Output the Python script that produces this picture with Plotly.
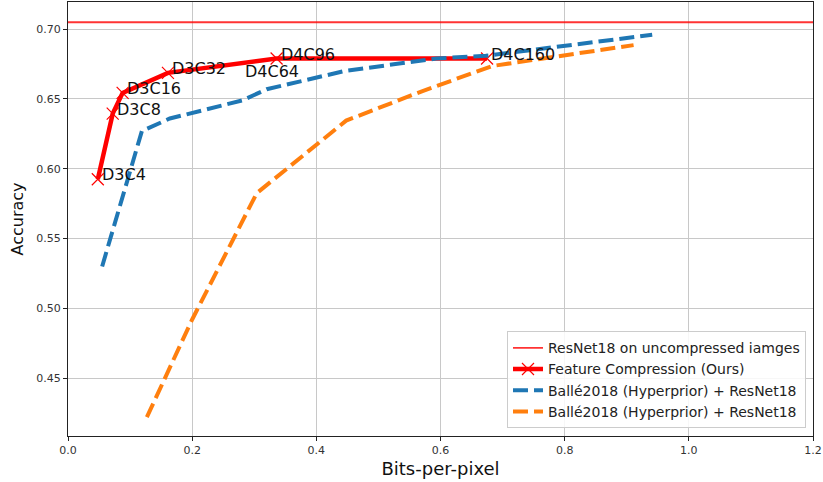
import plotly.graph_objects as go

# Reference accuracy of ResNet18 on uncompressed images
baseline_acc = 0.705

# Feature compression operating points (ours)
feat_labels = ["D3C4", "D3C8", "D3C16", "D3C32", "D4C96", "D4C160"]
feat_bpp = [0.048, 0.072, 0.088, 0.161, 0.336, 0.675]
feat_acc = [0.5925, 0.6395, 0.6544, 0.6687, 0.679, 0.679]

# Extra configuration label placed off the curve
extra_label = "D4C64"
extra_bpp = 0.279
extra_acc = 0.6665

# Ballé2018 (Hyperprior) + ResNet18, first run
balle_a_bpp = [0.055, 0.119, 0.164, 0.281, 0.320, 0.445, 0.593, 0.673, 0.941]
balle_a_acc = [0.530, 0.627, 0.636, 0.649, 0.657, 0.670, 0.679, 0.681, 0.696]

# Ballé2018 (Hyperprior) + ResNet18, second run
balle_b_bpp = [0.127, 0.200, 0.304, 0.448, 0.570, 0.683, 0.911]
balle_b_acc = [0.422, 0.492, 0.5825, 0.6345, 0.6555, 0.6736, 0.6886]

x_range = [0.0, 1.2]
y_range = [0.4085, 0.7195]

FONT = "DejaVu Sans"

fig = go.Figure()

fig.add_trace(go.Scatter(
    x=x_range, y=[baseline_acc, baseline_acc], mode="lines",
    line=dict(color="rgba(255,0,0,0.8)", width=1.8),
    name="ResNet18 on uncompressed iamges",
))

fig.add_trace(go.Scatter(
    x=feat_bpp, y=feat_acc, mode="lines+markers",
    line=dict(color="#ff0000", width=4.5),
    marker=dict(symbol="x-thin", size=12, line=dict(color="#ff0000", width=1.2)),
    name="Feature Compression (Ours)",
))

fig.add_trace(go.Scatter(
    x=balle_a_bpp, y=balle_a_acc, mode="lines",
    line=dict(color="#1f77b4", width=4, dash="15px,6px"),
    name="Ballé2018 (Hyperprior) + ResNet18",
))

fig.add_trace(go.Scatter(
    x=balle_b_bpp, y=balle_b_acc, mode="lines",
    line=dict(color="#ff7f0e", width=4, dash="15px,6px"),
    name="Ballé2018 (Hyperprior) + ResNet18",
))

# Configuration names next to each operating point
label_x = feat_bpp + [extra_bpp]
label_y = feat_acc + [extra_acc]
label_t = feat_labels + [extra_label]
for lx, ly, lt in zip(label_x, label_y, label_t):
    fig.add_annotation(
        x=lx, y=ly, text=lt, showarrow=False,
        xanchor="left", yanchor="bottom", yshift=-7, xshift=2,
        font=dict(family=FONT, size=16, color="#111111"),
    )

axis_common = dict(
    showgrid=True, gridcolor="#c8c8c8", gridwidth=1,
    showline=True, linecolor="#222222", linewidth=1, mirror=True,
    ticks="outside", ticklen=4, tickcolor="#222222",
    tickfont=dict(family=FONT, size=11, color="#333333"),
    zeroline=False,
)

fig.update_xaxes(
    range=[x_range[0], x_range[1] + 1e-9], tick0=0, dtick=0.2, tickformat=".1f",
    ticklabeloverflow="allow",
    title=dict(text="Bits-per-pixel", font=dict(family=FONT, size=18, color="#111111"), standoff=6),
    **axis_common,
)
fig.update_yaxes(
    range=y_range, tick0=0.45, dtick=0.05, tickformat=".2f",
    title=dict(text="Accuracy", font=dict(family=FONT, size=16, color="#111111"), standoff=8),
    **axis_common,
)

fig.update_layout(
    width=823, height=482,
    margin=dict(l=68, r=8, t=1, b=46),
    paper_bgcolor="white", plot_bgcolor="white",
    font=dict(family=FONT, color="#222222"),
    legend=dict(
        x=0.9906, y=0.018, xanchor="right", yanchor="bottom",
        bgcolor="rgba(255,255,255,0.85)", bordercolor="#cccccc", borderwidth=1,
        font=dict(family=FONT, size=14, color="#222222"),
        itemwidth=30,
    ),
    showlegend=True,
)

fig.write_html("out.html")
